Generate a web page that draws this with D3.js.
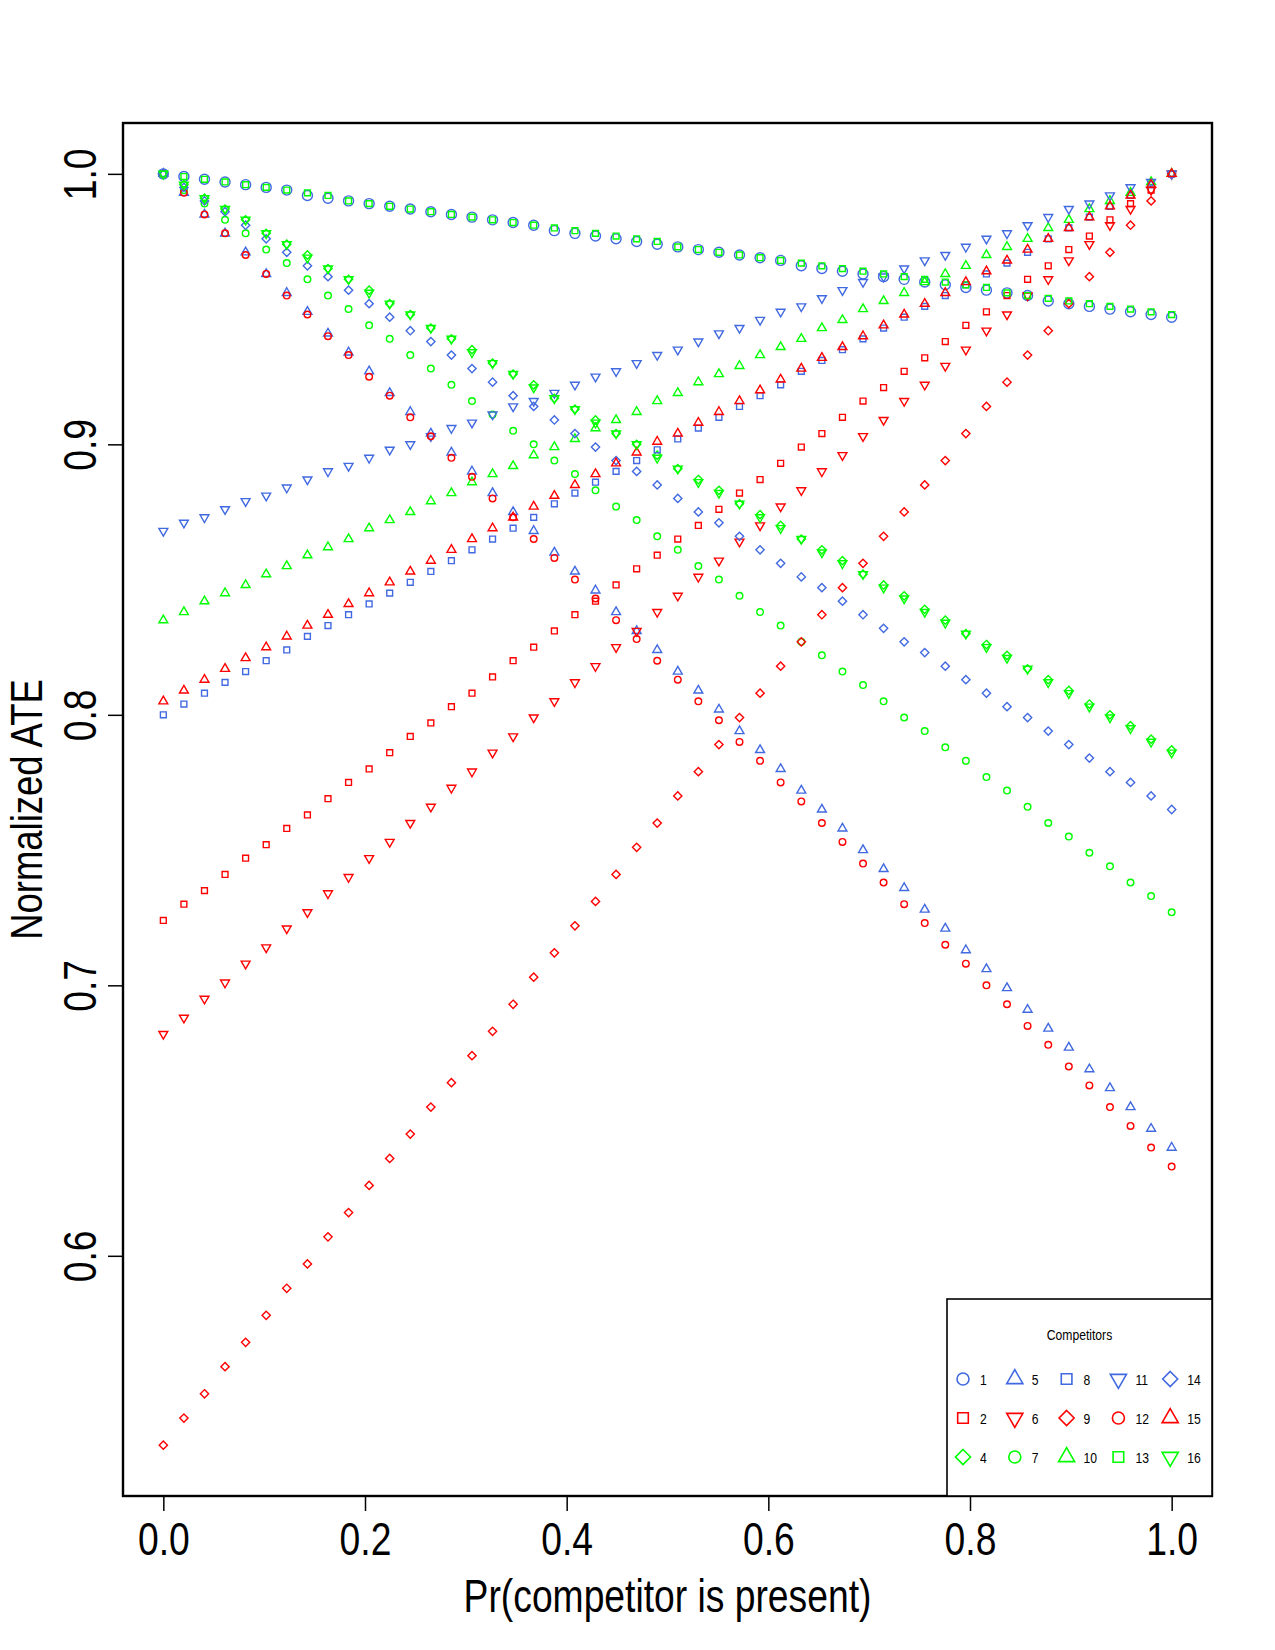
<!DOCTYPE html>
<html>
<head>
<meta charset="utf-8">
<script src="https://cdn.jsdelivr.net/npm/d3@7"></script>
<style>
  body { margin: 0; background: #fff; }
  svg { display: block; }
  text { font-family: "Liberation Sans", Arial, Helvetica, sans-serif; fill: #000; }
</style>
</head>
<body>
<div id="chart"></div>
<script>
// Pr(competitor is present): 50 evenly spaced points on [0, 1]
var pr = [0, 0.0204, 0.0408, 0.0612, 0.0816, 0.1020, 0.1224, 0.1429, 0.1633, 0.1837,
  0.2041, 0.2245, 0.2449, 0.2653, 0.2857, 0.3061, 0.3265, 0.3469, 0.3673, 0.3878,
  0.4082, 0.4286, 0.4490, 0.4694, 0.4898, 0.5102, 0.5306, 0.5510, 0.5714, 0.5918,
  0.6122, 0.6327, 0.6531, 0.6735, 0.6939, 0.7143, 0.7347, 0.7551, 0.7755, 0.7959,
  0.8163, 0.8367, 0.8571, 0.8776, 0.8980, 0.9184, 0.9388, 0.9592, 0.9796, 1];

// normalized ATE, one array per competitor
var c1 = [1.000, .999, .998, .997, .996, .995, .994, .992, .991, .990, .989, .988, .987, .986, .985, .984, .983, .982, .981, .979,
  .978, .977, .976, .975, .974, .973, .972, .971, .970, .969, .968, .966, .965, .964, .963, .962, .961, .960, .959, .958,
  .957, .956, .955, .953, .952, .951, .950, .949, .948, .947];
var c2 = [.724, .730, .735, .741, .747, .752, .758, .763, .769, .775, .780, .786, .792, .797, .803, .808, .814, .820, .825, .831,
  .837, .842, .848, .854, .859, .865, .870, .876, .882, .887, .893, .899, .904, .910, .916, .921, .927, .932, .938, .944,
  .949, .955, .961, .966, .972, .977, .983, .989, .994, 1.000];
var c4 = [1.000, .996, .991, .987, .983, .978, .974, .970, .965, .961, .957, .952, .948, .943, .939, .935, .930, .926, .922, .917,
  .913, .909, .904, .900, .896, .891, .887, .883, .878, .874, .870, .865, .861, .857, .852, .848, .844, .839, .835, .830,
  .826, .822, .817, .813, .809, .804, .800, .796, .791, .787];
var c5 = [1.000, .993, .985, .978, .971, .963, .956, .949, .941, .934, .927, .919, .912, .904, .897, .890, .882, .875, .868, .860,
  .853, .846, .838, .831, .824, .816, .809, .802, .794, .787, .780, .772, .765, .758, .750, .743, .736, .728, .721, .713,
  .706, .699, .691, .684, .677, .669, .662, .655, .647, .640];
var c6 = [.682, .688, .695, .701, .708, .714, .721, .727, .734, .740, .747, .753, .760, .766, .773, .779, .786, .792, .799, .805,
  .812, .818, .825, .831, .838, .844, .851, .857, .864, .870, .877, .883, .890, .896, .903, .909, .916, .922, .929, .935,
  .942, .948, .955, .961, .968, .974, .981, .987, .994, 1.000];
var c7 = [1.000, .994, .989, .983, .978, .972, .967, .961, .955, .950, .944, .939, .933, .928, .922, .916, .911, .905, .900, .894,
  .889, .883, .877, .872, .866, .861, .855, .850, .844, .838, .833, .827, .822, .816, .811, .805, .799, .794, .788, .783,
  .777, .772, .766, .760, .755, .749, .744, .738, .733, .727];
var c8 = [.800, .804, .808, .812, .816, .820, .824, .829, .833, .837, .841, .845, .849, .853, .857, .861, .865, .869, .873, .878,
  .882, .886, .890, .894, .898, .902, .906, .910, .914, .918, .922, .927, .931, .935, .939, .943, .947, .951, .955, .959,
  .963, .967, .971, .976, .980, .984, .988, .992, .996, 1.000];
var c9 = [.530, .540, .549, .559, .568, .578, .588, .597, .607, .616, .626, .636, .645, .655, .664, .674, .683, .693, .703, .712,
  .722, .731, .741, .751, .760, .770, .779, .789, .799, .808, .818, .827, .837, .847, .856, .866, .875, .885, .894, .904,
  .914, .923, .933, .942, .952, .962, .971, .981, .990, 1.000];
var c10 = [.835, .838, .842, .845, .848, .852, .855, .859, .862, .865, .869, .872, .875, .879, .882, .886, .889, .892, .896, .899,
  .902, .906, .909, .912, .916, .919, .923, .926, .929, .933, .936, .939, .943, .946, .950, .953, .956, .960, .963, .966,
  .970, .973, .976, .980, .983, .987, .990, .993, .997, 1.000];
var c11 = [.868, .871, .873, .876, .879, .881, .884, .887, .890, .892, .895, .898, .900, .903, .906, .908, .911, .914, .916, .919,
  .922, .925, .927, .930, .933, .935, .938, .941, .943, .946, .949, .951, .954, .957, .960, .962, .965, .968, .970, .973,
  .976, .978, .981, .984, .987, .989, .992, .995, .997, 1.000];
var c12 = [1.000, .993, .985, .978, .970, .963, .955, .948, .940, .933, .925, .918, .910, .903, .895, .888, .880, .873, .865, .858,
  .850, .843, .835, .828, .820, .813, .805, .798, .790, .783, .775, .768, .760, .753, .745, .738, .730, .723, .715, .708,
  .700, .693, .685, .678, .670, .663, .655, .648, .640, .633];
var c13 = [1.000, .999, .998, .997, .996, .995, .994, .993, .992, .990, .989, .988, .987, .986, .985, .984, .983, .982, .981, .980,
  .979, .978, .977, .976, .975, .973, .972, .971, .970, .969, .968, .967, .966, .965, .964, .963, .962, .961, .960, .959,
  .958, .956, .955, .954, .953, .952, .951, .950, .949, .948];
var c14 = [1.000, .995, .990, .986, .981, .976, .971, .966, .962, .957, .952, .947, .942, .938, .933, .928, .923, .918, .914, .909,
  .904, .899, .894, .890, .885, .880, .875, .871, .866, .861, .856, .851, .847, .842, .837, .832, .827, .823, .818, .813,
  .808, .803, .799, .794, .789, .784, .779, .775, .770, .765];
var c15 = [.805, .809, .813, .817, .821, .825, .829, .833, .837, .841, .845, .849, .853, .857, .861, .865, .869, .873, .877, .881,
  .885, .889, .893, .897, .901, .904, .908, .912, .916, .920, .924, .928, .932, .936, .940, .944, .948, .952, .956, .960,
  .964, .968, .972, .976, .980, .984, .988, .992, .996, 1.000];
var c16 = [1.000, .996, .991, .987, .983, .978, .974, .969, .965, .961, .956, .952, .948, .943, .939, .934, .930, .926, .921, .917,
  .913, .908, .904, .900, .895, .891, .886, .882, .878, .873, .869, .865, .860, .856, .852, .847, .843, .838, .834, .830,
  .825, .821, .817, .812, .808, .803, .799, .795, .790, .786];

var competitors = [1, 2, 4, 5, 6, 7, 8, 9, 10, 11, 12, 13, 14, 15, 16];
var seriesValues = [c1, c2, c4, c5, c6, c7, c8, c9, c10, c11, c12, c13, c14, c15, c16];
var seriesShapes = ['circle', 'square', 'diamond', 'triUp', 'triDown', 'circle', 'square', 'diamond', 'triUp', 'triDown',
  'circle', 'square', 'diamond', 'triUp', 'triDown'];
var seriesColors = ['#4169E1', '#FF0000', '#00FF00', '#4169E1', '#FF0000', '#00FF00', '#4169E1', '#FF0000', '#00FF00', '#4169E1',
  '#FF0000', '#00FF00', '#4169E1', '#FF0000', '#00FF00'];

var xTicks = [0, 0.2, 0.4, 0.6, 0.8, 1.0];
var yTicks = [0.6, 0.7, 0.8, 0.9, 1.0];

(function () {
  'use strict';

  var W = 1275, H = 1650;
  var box = { left: 123, right: 1212, top: 123, bottom: 1496 };
  var squeeze = 0.81;   // the figure's font is a narrow sans

  var svg = d3.select('#chart').append('svg').attr('width', W).attr('height', H);
  svg.append('rect').attr('width', W).attr('height', H).attr('fill', '#fff');

  /*====================================
  Scales (R style: 4% padding on each side)
  ======================================*/
  var allY = d3.merge(seriesValues);
  var yExt = d3.extent(allY);
  var yPad = 0.04 * (yExt[1] - yExt[0]);
  var xExt = d3.extent(pr);
  var xPad = 0.04 * (xExt[1] - xExt[0]);

  var x = d3.scaleLinear().domain([xExt[0] - xPad, xExt[1] + xPad]).range([box.left, box.right]);
  var y = d3.scaleLinear().domain([yExt[0] - yPad, yExt[1] + yPad]).range([box.bottom, box.top]);

  /*====================================
  R plotting symbols (pch 0, 1, 2, 5, 6)
  ======================================*/
  var pchTypes = {
    circle: { draw: function (ctx, r) { ctx.moveTo(r, 0); ctx.arc(0, 0, r, 0, 2 * Math.PI); } },
    square: { draw: function (ctx, r) { var s = r * 0.8862; ctx.rect(-s, -s, 2 * s, 2 * s); } },
    diamond: { draw: function (ctx, r) {
      var s = r * 1.2533;
      ctx.moveTo(0, -s); ctx.lineTo(s, 0); ctx.lineTo(0, s); ctx.lineTo(-s, 0); ctx.closePath();
    } },
    triUp: { draw: function (ctx, r) {
      var t = r * 1.5551, yc = r * 0.7776, xc = r * 1.3468;
      ctx.moveTo(0, -t); ctx.lineTo(xc, yc); ctx.lineTo(-xc, yc); ctx.closePath();
    } },
    triDown: { draw: function (ctx, r) {
      var t = r * 1.5551, yc = r * 0.7776, xc = r * 1.3468;
      ctx.moveTo(0, t); ctx.lineTo(xc, -yc); ctx.lineTo(-xc, -yc); ctx.closePath();
    } }
  };
  function pch(shape, r) {
    return d3.symbol().type(pchTypes[shape]).size(r)();
  }

  /*====================================
  Points
  ======================================*/
  var series = competitors.map(function (c, k) {
    return { id: c, shape: seriesShapes[k], color: seriesColors[k], values: seriesValues[k] };
  });

  var pts = svg.append('g').attr('class', 'points');
  series.forEach(function (s) {
    var r = s.id === 1 ? 5 : 3.3;
    pts.append('g')
      .selectAll('path')
      .data(s.values)
      .enter()
      .append('path')
      .attr('d', pch(s.shape, r))
      .attr('transform', function (d, i) { return 'translate(' + x(pr[i]) + ',' + y(d) + ')'; })
      .attr('fill', 'none')
      .attr('stroke', s.color)
      .attr('stroke-width', 1.4);
  });

  /*====================================
  Axes
  ======================================*/
  var xAxis = svg.append('g')
    .attr('transform', 'translate(0,' + box.bottom + ')')
    .call(d3.axisBottom(x).tickValues(xTicks).tickSize(15).tickSizeOuter(0).tickFormat(d3.format('.1f')));
  var yAxis = svg.append('g')
    .attr('transform', 'translate(' + box.left + ',0)')
    .call(d3.axisLeft(y).tickValues(yTicks).tickSize(15).tickSizeOuter(0).tickFormat(d3.format('.1f')));

  [xAxis, yAxis].forEach(function (ax) {
    ax.select('.domain').remove();
    ax.selectAll('line').attr('stroke', '#000').attr('stroke-width', 1.5);
    ax.selectAll('text')
      .attr('x', null).attr('y', null).attr('dy', null)
      .attr('fill', '#000')
      .style('font-size', '46px')
      .attr('text-anchor', 'middle');
  });
  xAxis.selectAll('text').attr('transform', 'translate(0,59) scale(' + squeeze + ',1)');
  yAxis.selectAll('text').attr('transform', 'translate(-27,0) rotate(-90) scale(' + squeeze + ',1)');

  svg.append('text')
    .attr('transform', 'translate(' + (box.left + box.right) / 2 + ',1612) scale(' + squeeze + ',1)')
    .attr('text-anchor', 'middle')
    .style('font-size', '46px')
    .text('Pr(competitor is present)');

  svg.append('text')
    .attr('transform', 'translate(42,' + (box.top + box.bottom) / 2 + ') rotate(-90) scale(' + squeeze + ',1)')
    .attr('text-anchor', 'middle')
    .style('font-size', '45px')
    .text('Normalized ATE');

  // plot frame
  svg.append('rect')
    .attr('x', box.left).attr('y', box.top)
    .attr('width', box.right - box.left).attr('height', box.bottom - box.top)
    .attr('fill', 'none').attr('stroke', '#000').attr('stroke-width', 2.4);

  /*====================================
  Legend (bottom right, 5 columns)
  ======================================*/
  var lg = { left: 947, top: 1299, right: box.right, bottom: box.bottom };
  var legend = svg.append('g').attr('class', 'legend');
  legend.append('rect')
    .attr('x', lg.left).attr('y', lg.top)
    .attr('width', lg.right - lg.left).attr('height', lg.bottom - lg.top)
    .attr('fill', '#fff').attr('stroke', '#000').attr('stroke-width', 1.6);

  legend.append('text')
    .attr('transform', 'translate(' + (lg.left + lg.right) / 2 + ',1340) scale(' + squeeze + ',1)')
    .attr('text-anchor', 'middle')
    .style('font-size', '15px')
    .text('Competitors');

  var item = legend.selectAll('g.item')
    .data(series)
    .enter()
    .append('g')
    .attr('class', 'item')
    .attr('transform', function (d, k) {
      var col = Math.floor(k / 3), row = k % 3;
      return 'translate(' + (963 + col * 51.8) + ',' + (1379 + row * 39) + ')';
    });

  item.append('path')
    .attr('d', function (d) { return pch(d.shape, 6); })
    .attr('fill', 'none')
    .attr('stroke', function (d) { return d.color; })
    .attr('stroke-width', 1.6);

  item.append('text')
    .attr('transform', 'translate(17,5.5) scale(' + squeeze + ',1)')
    .style('font-size', '15px')
    .text(function (d) { return d.id; });
}());
</script>
</body>
</html>
